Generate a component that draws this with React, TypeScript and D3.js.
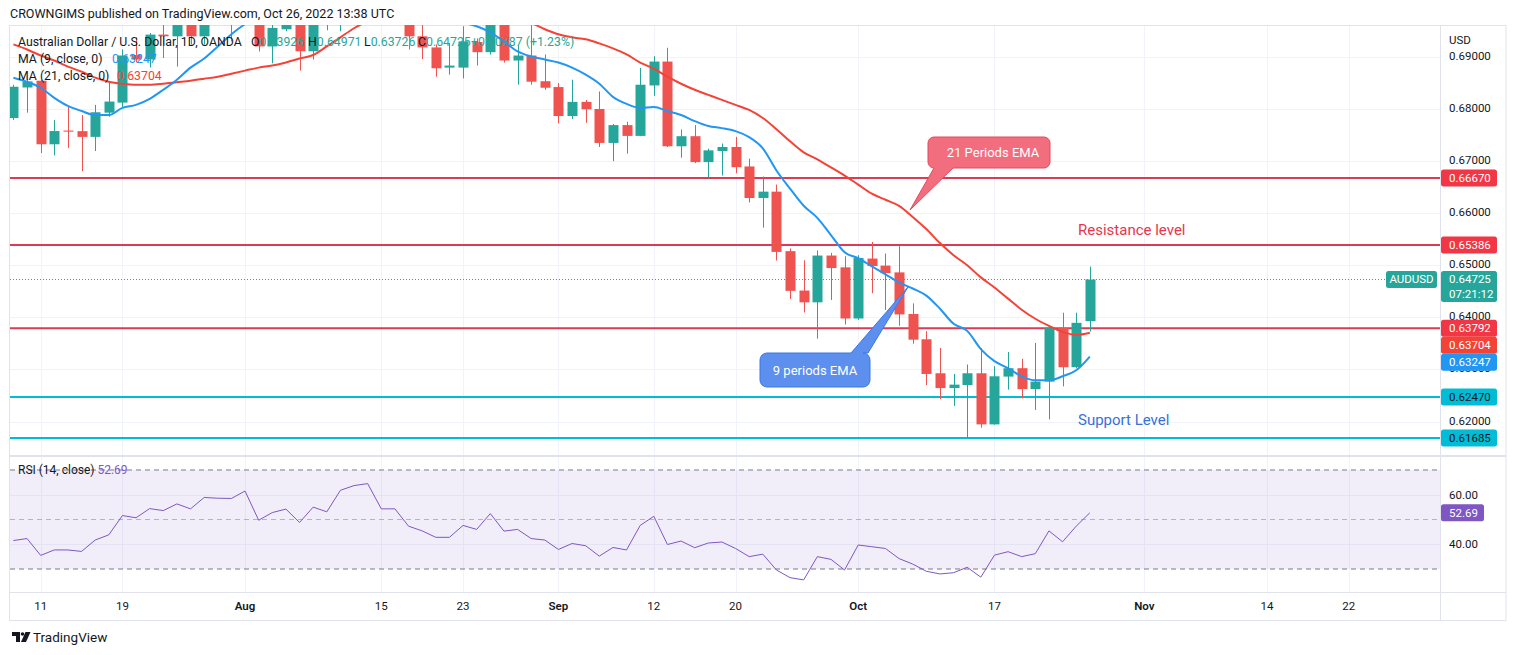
import * as d3 from 'd3';

const W = 1514;
const H = 655;

// AUDUSD daily candles, Jul 7 – Oct 26 2022 (OANDA)
const opens = [
  0.6782, 0.68406, 0.68536, 0.67317, 0.6758, 0.67569, 0.67459, 0.67923, 0.68116, 0.6903,
  0.68942, 0.6942, 0.69387, 0.6962, 0.69387, 0.699, 0.7, 0.6986, 0.703, 0.69193,
  0.69522, 0.698, 0.691, 0.698, 0.6965, 0.709, 0.71, 0.712, 0.704, 0.702,
  0.69387, 0.69174, 0.68787, 0.68787, 0.69277, 0.69083, 0.6965, 0.68923, 0.69019, 0.68526,
  0.68414, 0.67859, 0.6813, 0.67994, 0.67343, 0.67685, 0.67478, 0.68445, 0.68903, 0.67279,
  0.67472, 0.66975, 0.67188, 0.67265, 0.66892, 0.66287, 0.66409, 0.65268, 0.64513, 0.64287,
  0.65184, 0.64958, 0.63977, 0.65126, 0.64991, 0.64861, 0.64063, 0.63579, 0.62927, 0.62643,
  0.62701, 0.62927, 0.61947, 0.62863, 0.63024, 0.62624, 0.62767, 0.63798, 0.63043, 0.63926,
];
const highs = [
  0.68458, 0.68575, 0.68555, 0.67782, 0.68033, 0.67878, 0.68072, 0.68522, 0.69135, 0.69368,
  0.6945, 0.6977, 0.697, 0.697, 0.6995, 0.7018, 0.702, 0.705, 0.7045, 0.6965,
  0.699, 0.699, 0.699, 0.6995, 0.7095, 0.7137, 0.713, 0.7125, 0.706, 0.703,
  0.6965, 0.69232, 0.69257, 0.6958, 0.69348, 0.6975, 0.6985, 0.69213, 0.6965, 0.69039,
  0.68491, 0.68555, 0.68168, 0.68329, 0.67705, 0.67749, 0.68781, 0.69006, 0.69168, 0.67602,
  0.67685, 0.67234, 0.67331, 0.67459, 0.67041, 0.66699, 0.66544, 0.6532, 0.65093, 0.65281,
  0.65235, 0.65171, 0.6519, 0.65444, 0.65223, 0.65364, 0.64268, 0.63734, 0.63411, 0.62914,
  0.63095, 0.63411, 0.63063, 0.63334, 0.63204, 0.63508, 0.6385, 0.64088, 0.64088, 0.64971,
];
const lows = [
  0.67782, 0.67923, 0.67149, 0.67105, 0.67248, 0.66801, 0.67188, 0.67845, 0.68033, 0.68884,
  0.6879, 0.6897, 0.68807, 0.6923, 0.6923, 0.6965, 0.6929, 0.697, 0.69097, 0.6887,
  0.69484, 0.68729, 0.68942, 0.69503, 0.69484, 0.706, 0.708, 0.702, 0.699, 0.69135,
  0.6895, 0.68613, 0.68652, 0.6858, 0.68826, 0.69039, 0.68884, 0.68459, 0.68459, 0.68362,
  0.67718, 0.67801, 0.67729, 0.67265, 0.66994, 0.67138, 0.67472, 0.68246, 0.67265, 0.6706,
  0.66956, 0.66685, 0.66718, 0.66762, 0.66202, 0.65718, 0.65088, 0.64352, 0.64093, 0.63591,
  0.64333, 0.63862, 0.63952, 0.64461, 0.6414, 0.63837, 0.63494, 0.62701, 0.6243, 0.62303,
  0.6169, 0.61883, 0.61941, 0.62612, 0.62444, 0.62225, 0.62043, 0.62676, 0.63024, 0.63726,
];
const closes = [
  0.6842, 0.68522, 0.67317, 0.67571, 0.67559, 0.67459, 0.67931, 0.68136, 0.69019, 0.68942,
  0.6942, 0.69387, 0.6962, 0.69387, 0.699, 0.7, 0.6986, 0.703, 0.69193, 0.69548,
  0.698, 0.691, 0.698, 0.6965, 0.709, 0.71, 0.712, 0.704, 0.702, 0.69387,
  0.69174, 0.68774, 0.68826, 0.6929, 0.69083, 0.6965, 0.68923, 0.69019, 0.68517, 0.68401,
  0.67859, 0.6813, 0.67989, 0.67343, 0.67685, 0.67478, 0.68459, 0.68903, 0.67279, 0.67472,
  0.66975, 0.67201, 0.67265, 0.66878, 0.66287, 0.66409, 0.65254, 0.64507, 0.64287, 0.65184,
  0.64944, 0.63977, 0.65138, 0.64983, 0.64848, 0.64055, 0.63571, 0.62914, 0.62643, 0.62709,
  0.62927, 0.61947, 0.62869, 0.63024, 0.62624, 0.62767, 0.63798, 0.63043, 0.63894, 0.64725,
];

// moving averages as drawn (blue 9, red 21)
const ma9 = [
  0.68594, 0.68516, 0.68401, 0.68207, 0.68052, 0.67956, 0.67878, 0.67878, 0.68014, 0.68072,
  0.68188, 0.68362, 0.68555, 0.68787, 0.68961, 0.69193, 0.69426, 0.69619, 0.6975, 0.698,
  0.6985, 0.6985, 0.699, 0.699, 0.701, 0.703, 0.705, 0.705, 0.7045, 0.703,
  0.7005, 0.6985, 0.6972, 0.6965, 0.6958, 0.69464, 0.6929, 0.69097, 0.69, 0.68942,
  0.68884, 0.68787, 0.68652, 0.68478, 0.68227, 0.68091, 0.68014, 0.68033, 0.67956, 0.67878,
  0.67762, 0.67666, 0.67627, 0.67569, 0.67453, 0.6724, 0.66815, 0.66466, 0.66138, 0.65906,
  0.65577, 0.65248, 0.65132, 0.64977, 0.64823, 0.64668, 0.64552, 0.64416, 0.64165, 0.63875,
  0.6374, 0.63391, 0.63159, 0.63024, 0.62869, 0.62792, 0.62792, 0.62869, 0.62985, 0.63247,
];
const ma21 = [
  0.69232, 0.69135, 0.69019, 0.68923, 0.68807, 0.6871, 0.68594, 0.68516, 0.68478, 0.68459,
  0.68459, 0.68478, 0.68507, 0.68536, 0.68574, 0.68613, 0.68671, 0.68729, 0.68787, 0.68826,
  0.68884, 0.68961, 0.69029, 0.69193, 0.69368, 0.69542, 0.6968, 0.698, 0.6985, 0.699,
  0.699, 0.6988, 0.6986, 0.6984, 0.6982, 0.698, 0.6977, 0.69677, 0.69638, 0.69522,
  0.69426, 0.69368, 0.69329, 0.69251, 0.69155, 0.69039, 0.68884, 0.68768, 0.68613, 0.68478,
  0.68362, 0.68265, 0.68168, 0.68072, 0.67975, 0.6782, 0.67607, 0.67375, 0.67163, 0.67027,
  0.66873, 0.66718, 0.66544, 0.6637, 0.66254, 0.66138, 0.65925, 0.65693, 0.65423, 0.6519,
  0.64997, 0.64765, 0.64571, 0.64358, 0.64146, 0.63972, 0.63836, 0.6372, 0.63662, 0.63704,
];
const rsi = [
  41.5, 42.3, 35.5, 37.7, 37.7, 37.1, 41.7, 43.8, 51.6, 50.7,
  54.4, 53.6, 56.3, 54.3, 58.9, 58.6, 58.5, 61.5, 49.7, 52.8,
  54.2, 48.8, 55.0, 53.1, 61.8, 63.7, 64.5, 54.3, 54.3, 47.3,
  45.4, 42.8, 42.8, 47.6, 46.0, 52.4, 45.3, 46.0, 42.3, 41.7,
  37.9, 40.3, 39.4, 35.2, 38.7, 37.7, 47.6, 51.3, 39.9, 41.3,
  38.6, 40.5, 40.9, 38.3, 35.0, 36.0, 29.6, 26.5, 25.6, 35.0,
  33.9, 29.6, 39.7, 39.0, 38.3, 34.2, 32.0, 29.1, 28.0, 28.5,
  30.7, 26.7, 35.6, 37.0, 35.0, 36.2, 45.4, 41.0, 47.3, 52.69,
];

const resistanceLevels = [0.6667, 0.65386, 0.63792];
const supportLevels = [0.6247, 0.61685];
const priceTicks = [0.62, 0.63, 0.64, 0.65, 0.66, 0.67, 0.68, 0.69];
const rsiTicks = [40, 60];
const rsiBands = [70, 50, 30];
const tickDates = ['2022-07-11', '2022-07-19', '2022-08-01', '2022-08-15', '2022-08-23', '2022-09-01',
  '2022-09-12', '2022-09-20', '2022-10-03', '2022-10-17', '2022-11-01', '2022-11-14', '2022-11-22'];
const tickLabels = ['11', '19', 'Aug', '15', '23', 'Sep', '12', '20', 'Oct', '17', 'Nov', '14', '22'];

const FONT = "Roboto, 'Liberation Sans', Arial, sans-serif";
const TXT = '#131722';
const UP = '#26a69a';
const DOWN = '#ef5350';
const GRID = '#f0f3fa';
const BORDER = '#e0e3eb';

// layout
const left = 10, right = 1440, axisRight = 1506;
const mainTop = 25, mainBottom = 455, rsiTop = 457, rsiBottom = 592, timeBottom = 620;

export default function App() {
  const fmtDay = d3.timeFormat('%Y-%m-%d');
  const days = d3.timeDay
    .range(new Date(2022, 6, 7), new Date(2022, 11, 10))
    .filter(d => d.getDay() !== 0 && d.getDay() !== 6);
  const dayIndex = new Map(days.map((d, i) => [fmtDay(d), i]));

  const x = d3.scaleLinear().domain([-0.25, 104.7]).range([left, right]);
  const y = d3.scaleLinear().domain([0.6136, 0.69604]).range([mainBottom, mainTop]);
  const yR = d3.scaleLinear().domain([20.71, 75.25]).range([rsiBottom, rsiTop]);
  const px = (i: number) => Math.round(x(i)) + 0.5;

  const line = d3.line<number>().x((_, i) => x(i)).y(d => y(d)).curve(d3.curveMonotoneX);
  const rsiLine = d3.line<number>().x((_, i) => x(i)).y(d => yR(d));

  const last = closes.length - 1;
  const lastClose = closes[last];
  const bodyW = 10;

  // right-axis badges, pushed apart like TradingView does
  type Badge = { v: number; fill: string; color: string; lines: string[] };
  const badges: Badge[] = [
    ...resistanceLevels.map(v => ({ v, fill: '#f23645', color: '#fff', lines: [v.toFixed(5)] })),
    { v: lastClose, fill: UP, color: '#fff', lines: [lastClose.toFixed(5), '07:21:12'] },
    { v: ma21[last], fill: '#f44336', color: '#fff', lines: [ma21[last].toFixed(5)] },
    { v: ma9[last], fill: '#2196f3', color: '#fff', lines: [ma9[last].toFixed(5)] },
    ...supportLevels.map(v => ({ v, fill: '#00bcd4', color: TXT, lines: [v.toFixed(5)] })),
  ];
  const placed: { b: Badge; top: number; h: number }[] = [];
  let prevBottom = -Infinity;
  badges
    .slice()
    .sort((a, b) => b.v - a.v)
    .forEach(b => {
      const h = b.lines.length === 1 ? 17 : 31;
      const top = Math.max(y(b.v) - 8.5, prevBottom);
      placed.push({ b, top, h });
      prevBottom = top + h;
    });

  // axis labels hidden behind a badge are not drawn
  const visibleTicks = priceTicks.filter(p => {
    const ty = y(p);
    return !placed.some(({ top, h }) => ty > top - 2 && ty < top + h - 2);
  });

  const tickX = tickDates.map(d => dayIndex.get(d) ?? 0);

  return (
    <svg
      width={W}
      height={H}
      viewBox={`0 0 ${W} ${H}`}
      style={{ position: 'absolute', left: 0, top: 0, background: '#fff', fontFamily: FONT }}
    >
      <defs>
        <clipPath id="mainClip">
          <rect x={left} y={mainTop} width={right - left} height={mainBottom - mainTop} />
        </clipPath>
        <clipPath id="rsiClip">
          <rect x={left} y={rsiTop} width={right - left} height={rsiBottom - rsiTop} />
        </clipPath>
      </defs>

      <rect width={W} height={H} fill="#fff" />

      {/* header */}
      <text x={10} y={18} fontSize={12.5} fill={TXT}>
        CROWNGIMS published on TradingView.com, Oct 26, 2022 13:38 UTC
      </text>

      {/* grid */}
      <g stroke={GRID} strokeWidth={1}>
        {tickX.map((t, i) => (
          <g key={i}>
            <line x1={px(t)} x2={px(t)} y1={mainTop} y2={mainBottom} />
            <line x1={px(t)} x2={px(t)} y1={rsiTop} y2={rsiBottom} />
          </g>
        ))}
        {priceTicks.map(p => (
          <line key={p} x1={left} x2={right} y1={Math.round(y(p)) + 0.5} y2={Math.round(y(p)) + 0.5} />
        ))}
        {rsiTicks.map(r => (
          <line key={r} x1={left} x2={right} y1={Math.round(yR(r)) + 0.5} y2={Math.round(yR(r)) + 0.5} />
        ))}
      </g>

      {/* frame */}
      <g stroke={BORDER} strokeWidth={1} fill="none">
        <rect x={9.5} y={mainTop + 0.5} width={axisRight - 9.5} height={timeBottom - mainTop} />
        <line x1={right + 0.5} x2={right + 0.5} y1={mainTop} y2={timeBottom} />
        <line x1={9.5} x2={axisRight} y1={mainBottom + 1} y2={mainBottom + 1} strokeWidth={2} />
        <line x1={9.5} x2={axisRight} y1={rsiBottom + 0.5} y2={rsiBottom + 0.5} />
      </g>

      {/* main pane */}
      <g clipPath="url(#mainClip)">
        <line
          x1={left}
          x2={1386}
          y1={y(lastClose)}
          y2={y(lastClose)}
          stroke={UP}
          strokeWidth={1}
          strokeDasharray="1,2"
        />
        {resistanceLevels.map(v => (
          <line key={v} x1={left} x2={right} y1={y(v)} y2={y(v)} stroke="#dc3b55" strokeWidth={2} />
        ))}
        {supportLevels.map(v => (
          <line key={v} x1={left} x2={right} y1={y(v)} y2={y(v)} stroke="#00bcd4" strokeWidth={2} />
        ))}

        {closes.map((c, i) => {
          const o = opens[i];
          const col = c >= o ? UP : DOWN;
          const top = y(Math.max(o, c));
          const h = Math.max(1, Math.abs(y(o) - y(c)));
          return (
            <g key={i}>
              <line x1={px(i)} x2={px(i)} y1={y(highs[i])} y2={y(lows[i])} stroke={col} strokeWidth={1} />
              <rect x={Math.round(x(i)) - bodyW / 2 + 0.5} y={top} width={bodyW} height={h} fill={col} />
            </g>
          );
        })}

        <path d={line(ma21) ?? ''} fill="none" stroke="#f44336" strokeWidth={2} />
        <path d={line(ma9) ?? ''} fill="none" stroke="#2196f3" strokeWidth={2} />
      </g>

      {/* legend */}
      <g fontSize={12.3} fill={TXT}>
        <text x={18} y={46}>Australian Dollar / U.S. Dollar, 1D, OANDA</text>
        <text x={251} y={46}>
          O<tspan fill={UP}>{opens[last].toFixed(5)}</tspan>
        </text>
        <text x={308} y={46}>
          H<tspan fill={UP}>{highs[last].toFixed(5)}</tspan>
        </text>
        <text x={364} y={46}>
          L<tspan fill={UP}>{lows[last].toFixed(5)}</tspan>
        </text>
        <text x={418} y={46}>
          C<tspan fill={UP}>{lastClose.toFixed(5)}</tspan>
        </text>
        <text x={471} y={46} fill={UP}>+0.00787 (+1.23%)</text>
        <text x={18} y={63}>MA (9, close, 0)</text>
        <text x={112} y={63} fill="#2196f3">{ma9[last].toFixed(5)}</text>
        <text x={18} y={80}>MA (21, close, 0)</text>
        <text x={117} y={80} fill="#f44336">{ma21[last].toFixed(5)}</text>
      </g>

      {/* annotations */}
      <path d="M941,137 h103 a6,6 0 0 1 6,6 v19 a6,6 0 0 1 -6,6 h-91 l-43,42 l24,-42 h0 a6,6 0 0 1 -6,-6 v-19 a6,6 0 0 1 6,-6 z"
        fill="#f26d7d" stroke="#e24a5c" strokeWidth={1} />
      <text x={993} y={157} fontSize={13} fill="#fff" textAnchor="middle">21 Periods EMA</text>

      <path d="M767,353 h84 l57,-66 l-40,66 h-5 a7,7 0 0 1 7,7 v20 a7,7 0 0 1 -7,7 h-96 a7,7 0 0 1 -7,-7 v-20 a7,7 0 0 1 7,-7 z"
        fill="#5d8fef" stroke="#3a78e8" strokeWidth={1} />
      <text x={815} y={375} fontSize={13} fill="#fff" textAnchor="middle">9 periods EMA</text>

      <text x={1078} y={235} fontSize={15} fill="#e8364b">Resistance level</text>
      <text x={1078} y={425} fontSize={15} fill="#3a6fd8">Support Level</text>

      {/* price axis */}
      <g fontSize={11.5} fill={TXT}>
        <text x={1449} y={44}>USD</text>
        {visibleTicks.map(p => (
          <text key={p} x={1449} y={y(p) + 3}>{p.toFixed(5)}</text>
        ))}
      </g>
      <rect x={1386} y={y(lastClose) - 8.5} width={51} height={17} rx={2.5} fill={UP} />
      <text x={1411.5} y={y(lastClose) + 4} fontSize={11.5} fill="#fff" textAnchor="middle">AUDUSD</text>
      {placed.map(({ b, top, h }, k) => (
        <g key={k}>
          <rect x={1441} y={top} width={56} height={h} rx={2.5} fill={b.fill} />
          {b.lines.map((s, j) => (
            <text key={j} x={1449} y={top + 12.5 + j * 15} fontSize={11.5} fill={b.color}>{s}</text>
          ))}
        </g>
      ))}

      {/* RSI pane */}
      <g clipPath="url(#rsiClip)">
        <rect x={left} y={yR(70)} width={right - left} height={yR(30) - yR(70)} fill="rgba(126,87,194,0.1)" />
        {rsiBands.map(r => (
          <line
            key={r}
            x1={left}
            x2={right}
            y1={yR(r)}
            y2={yR(r)}
            stroke={r === 50 ? 'rgba(120,123,134,0.5)' : '#787b86'}
            strokeDasharray="5,4"
          />
        ))}
        <path d={rsiLine(rsi) ?? ''} fill="none" stroke="#7e57c2" strokeWidth={1} />
      </g>
      <text x={18} y={474} fontSize={12} fill={TXT}>
        RSI (14, close) <tspan fill="#7e57c2">{rsi[last].toFixed(2)}</tspan>
      </text>
      <g fontSize={11.5} fill={TXT}>
        {rsiTicks.map(r => (
          <text key={r} x={1449} y={yR(r) + 4}>{r.toFixed(2)}</text>
        ))}
      </g>
      <rect x={1441} y={yR(rsi[last]) - 8.5} width={43} height={17} rx={2.5} fill="#7e57c2" />
      <text x={1449} y={yR(rsi[last]) + 4} fontSize={11.5} fill="#fff">{rsi[last].toFixed(2)}</text>

      {/* time axis */}
      <g fontSize={11.5} fill={TXT} textAnchor="middle">
        {tickX.map((t, i) => (
          <text key={i} x={x(t)} y={610} fontWeight={/[A-Z]/.test(tickLabels[i]) ? 600 : 400}>
            {tickLabels[i]}
          </text>
        ))}
      </g>

      {/* TradingView footer */}
      <g fill={TXT}>
        <path d="M12,632 h8 v10 h-4 v-6 h-4 z" />
        <circle cx={22.5} cy={634} r={1.8} />
        <path d="M25.5,632 h5 l-4.5,10 h-5 z" />
        <text x={33} y={642} fontSize={13.5}>TradingView</text>
      </g>
    </svg>
  );
}
